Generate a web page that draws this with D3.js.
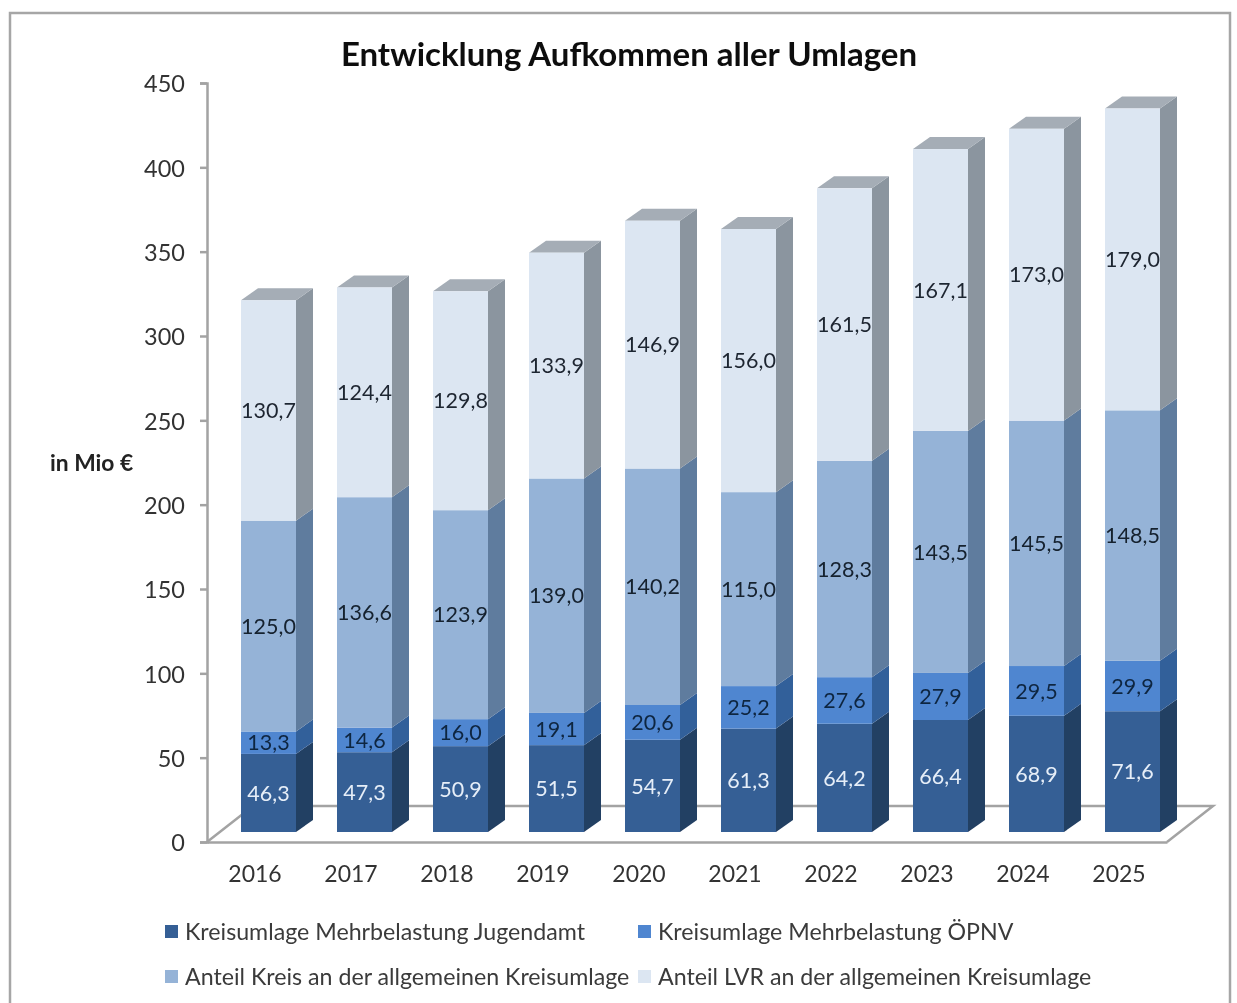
<!DOCTYPE html>
<html><head><meta charset="utf-8">
<script src="https://cdn.jsdelivr.net/npm/d3@7/dist/d3.min.js"></script>
<style>
html,body{margin:0;padding:0;background:#fff;overflow:hidden}
text{font-family:Lato,"Open Sans",sans-serif}
</style></head><body>
<svg id="c" width="1237" height="1003"></svg>
<script>
const years = ["2016","2017","2018","2019","2020","2021","2022","2023","2024","2025"];
const seriesNames = ["Kreisumlage Mehrbelastung Jugendamt","Kreisumlage Mehrbelastung ÖPNV","Anteil Kreis an der allgemeinen Kreisumlage","Anteil LVR an der allgemeinen Kreisumlage"];
const jugendamt = [46.3,47.3,50.9,51.5,54.7,61.3,64.2,66.4,68.9,71.6];
const oepnv = [13.3,14.6,16.0,19.1,20.6,25.2,27.6,27.9,29.5,29.9];
const kreis = [125.0,136.6,123.9,139.0,140.2,115.0,128.3,143.5,145.5,148.5];
const lvr = [130.7,124.4,129.8,133.9,146.9,156.0,161.5,167.1,173.0,179.0];
const yTicks = [0,50,100,150,200,250,300,350,400,450];
const seriesValues = [jugendamt,oepnv,kreis,lvr];
const frontColors = ["#355f95","#4f86d0","#95b3d7","#dce6f2"];
const sideColors = ["#223f63","#33609a","#5f7b9e","#8b959f"];
const topColor = "#a5adb6";
const labelColors = ["#e6eef8","#0f2540","#14202e","#1f2530"];

const svg = d3.select("#c");
const defs = svg.append("defs");
defs.append("filter").attr("id","soft").append("feGaussianBlur").attr("stdDeviation",0.45);

// frame
svg.append("rect").attr("x",10).attr("y",13).attr("width",1220).attr("height",1010)
  .attr("fill","#fff").attr("stroke","#a6a6a6").attr("stroke-width",2.5);

const root = svg.append("g").attr("filter","url(#soft)");

const y = d3.scaleLinear().domain([0,450]).range([842,83]);
const x = d3.scaleBand().domain(years).range([207,1167]).paddingInner(0).paddingOuter(0);
const floorDX = 46, floorDY = -36;       // floor depth
const barInset = 34, barW = 55;          // bar within its band
const barLift = 10;                      // bars stand this far above the front floor edge
const dx = 17, dy = -12;                 // bar depth

// floor
root.append("path")
  .attr("d",`M${x.range()[0]},${y(0)} L${x.range()[0]+floorDX},${y(0)+floorDY} L${x.range()[1]+floorDX},${y(0)+floorDY} L${x.range()[1]},${y(0)}`)
  .attr("fill","none").attr("stroke","#a3a3a3").attr("stroke-width",2.5);

// axes
const yAxis = root.append("g").attr("transform",`translate(${x.range()[0]},0)`)
  .call(d3.axisLeft(y).tickValues(yTicks).tickSize(7).tickPadding(15));
yAxis.selectAll("path,line").attr("stroke","#a3a3a3").attr("stroke-width",2.5);
yAxis.selectAll("text").attr("font-size",23.5).attr("fill","#333").attr("dy","0.37em");

const xAxis = root.append("g").attr("transform",`translate(0,${y(0)})`)
  .call(d3.axisBottom(x).tickSize(0).tickPadding(24));
xAxis.select("path").attr("stroke","#a3a3a3").attr("stroke-width",2.5);
xAxis.selectAll("text").attr("font-size",23).attr("fill","#333");

// stacked 3D bars
const stacked = d3.stack().keys(d3.range(4)).value((d,k)=>seriesValues[k][d])(d3.range(years.length));
stacked.forEach((layer,s)=>{
  const g = root.append("g");
  layer.forEach((p,i)=>{
    const x0 = x(years[i]) + barInset, x1 = x0 + barW;
    const yT = y(p[1]) - barLift, yB = y(p[0]) - barLift;
    g.append("path").attr("d",`M${x1},${yT} l${dx},${dy} V${yB+dy} l${-dx},${-dy} Z`).attr("fill",sideColors[s]);
    if(s===3) g.append("path").attr("d",`M${x0},${yT} l${dx},${dy} H${x1+dx} l${-dx},${-dy} Z`).attr("fill",topColor);
    g.append("rect").attr("x",x0).attr("y",yT).attr("width",barW).attr("height",yB-yT).attr("fill",frontColors[s]);
  });
});
stacked.forEach((layer,s)=>{
  layer.forEach((p,i)=>{
    root.append("text").attr("x",x(years[i])+barInset+barW/2).attr("y",(y(p[0])+y(p[1]))/2-barLift)
      .attr("dy","0.36em").attr("text-anchor","middle").attr("font-size",21.5).attr("fill",labelColors[s])
      .text(d3.format(".1f")(seriesValues[s][i]).replace(".",","));
  });
});

// title and axis name
root.append("text").attr("x",629).attr("y",66).attr("text-anchor","middle").attr("font-size",33)
  .attr("font-weight",700).attr("fill","#111").text("Entwicklung Aufkommen aller Umlagen");
root.append("text").attr("x",50).attr("y",471).attr("font-size",22.8).attr("font-weight",700).attr("fill","#222").text("in Mio €");

// legend
const legendX = [165,638,165,638], legendY = [932,932,977,977];
seriesNames.forEach((n,s)=>{
  root.append("rect").attr("x",legendX[s]).attr("y",legendY[s]-7).attr("width",13).attr("height",13).attr("fill",frontColors[s]);
  root.append("text").attr("x",legendX[s]+20).attr("y",legendY[s]).attr("dy","0.35em").attr("font-size",23.2).attr("fill","#3a3a3a").text(n);
});
</script></body></html>
